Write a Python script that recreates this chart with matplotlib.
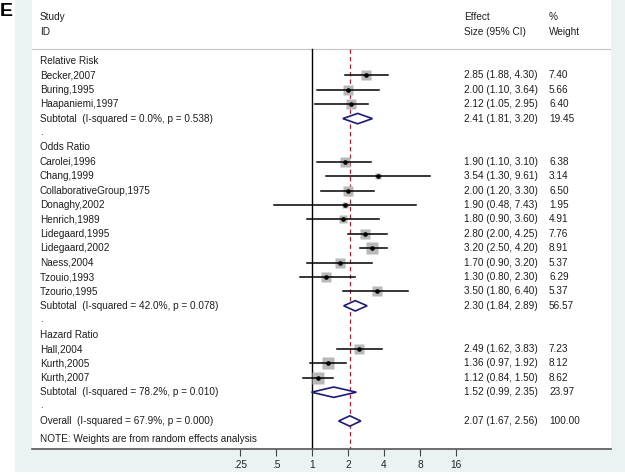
import matplotlib.pyplot as plt
import numpy as np
from matplotlib.patches import Rectangle, Polygon
from matplotlib.transforms import blended_transform_factory

plt.rcParams['font.family'] = ['Liberation Sans', 'DejaVu Sans']

# ---- data ----
group_names = ["Relative Risk", "Odds Ratio", "Hazard Ratio"]

rr_studies = ["Becker,2007", "Buring,1995", "Haapaniemi,1997"]
rr_es = [2.85, 2.00, 2.12]
rr_lo = [1.88, 1.10, 1.05]
rr_hi = [4.30, 3.64, 2.95]
rr_wt = [7.40, 5.66, 6.40]

or_studies = ["Carolei,1996", "Chang,1999", "CollaborativeGroup,1975", "Donaghy,2002",
              "Henrich,1989", "Lidegaard,1995", "Lidegaard,2002", "Naess,2004",
              "Tzouio,1993", "Tzourio,1995"]
or_es = [1.90, 3.54, 2.00, 1.90, 1.80, 2.80, 3.20, 1.70, 1.30, 3.50]
or_lo = [1.10, 1.30, 1.20, 0.48, 0.90, 2.00, 2.50, 0.90, 0.80, 1.80]
or_hi = [3.10, 9.61, 3.30, 7.43, 3.60, 4.25, 4.20, 3.20, 2.30, 6.40]
or_wt = [6.38, 3.14, 6.50, 1.95, 4.91, 7.76, 8.91, 5.37, 6.29, 5.37]

hr_studies = ["Hall,2004", "Kurth,2005", "Kurth,2007"]
hr_es = [2.49, 1.36, 1.12]
hr_lo = [1.62, 0.97, 0.84]
hr_hi = [3.83, 1.92, 1.50]
hr_wt = [7.23, 8.12, 8.62]

sub_labels = ["Subtotal  (I-squared = 0.0%, p = 0.538)",
              "Subtotal  (I-squared = 42.0%, p = 0.078)",
              "Subtotal  (I-squared = 78.2%, p = 0.010)"]
sub_es = [2.41, 2.30, 1.52]
sub_lo = [1.81, 1.84, 0.99]
sub_hi = [3.20, 2.89, 2.35]
sub_wt = [19.45, 56.57, 23.97]

overall_label = "Overall  (I-squared = 67.9%, p = 0.000)"
overall_es, overall_lo, overall_hi, overall_wt = 2.07, 1.67, 2.56, 100.00

xticks = [0.25, 0.5, 1, 2, 4, 8, 16]
xtick_labels = [".25", ".5", "1", "2", "4", "8", "16"]

groups = [
    (rr_studies, rr_es, rr_lo, rr_hi, rr_wt),
    (or_studies, or_es, or_lo, or_hi, or_wt),
    (hr_studies, hr_es, hr_lo, hr_hi, hr_wt),
]

# ---- figure ----
W, H = 625, 475
fig = plt.figure(figsize=(6.25, 4.75), dpi=100, facecolor='white')
bg = '#eaf2f3'
fig.patches.append(Rectangle((15 / W, 1 - 472 / H), 610 / W, 472 / H,
                             transform=fig.transFigure, facecolor=bg,
                             edgecolor='none', zorder=-10))

ax_l, ax_r, ax_t, ax_b = 32, 611, 0, 449
ax = fig.add_axes([ax_l / W, 1 - ax_b / H, (ax_r - ax_l) / W, (ax_b - ax_t) / H])
ax.set_facecolor('white')
ax.set_xscale('log', base=2)
px_dec = 36.0
x0 = 312
ax.set_xlim(2 ** ((ax_l - x0) / px_dec), 2 ** ((ax_r - x0) / px_dec))
row_h = 14.4
y0 = 61
ax.set_ylim((ax_b - y0) / row_h, (ax_t - y0) / row_h)

for s in ['top', 'left', 'right']:
    ax.spines[s].set_visible(False)
ax.spines['bottom'].set_color('#555555')
ax.spines['bottom'].set_linewidth(1.2)
ax.set_yticks([])
ax.set_xticks(xticks)
ax.set_xticklabels(xtick_labels)
ax.minorticks_off()
ax.tick_params(axis='x', length=5, width=0.8, color='#444444', labelsize=7.3,
               labelcolor='#222222', pad=3)

tr = blended_transform_factory(ax.transAxes, ax.transData)
def colx(px):
    return (px - ax_l) / (ax_r - ax_l)

fs = 7.2
tc = '#1e1e1e'
def txt(px, row, s):
    ax.text(colx(px), row, s, transform=tr, fontsize=fs, color=tc, va='center', ha='left')

# header
hdr_line = (49 - y0) / row_h
ax.axhline(hdr_line, color='#c8c8c8', lw=0.9)
r1, r2 = (17 - y0) / row_h, (32 - y0) / row_h
txt(40, r1, "Study"); txt(40, r2, "ID")
txt(464, r1, "Effect"); txt(464, r2, "Size (95% CI)")
txt(549, r1, "%"); txt(549, r2, "Weight")

bottom = ax.get_ylim()[0]
ax.plot([1, 1], [hdr_line, bottom], color='black', lw=1.0, zorder=2)
ax.plot([overall_es, overall_es], [hdr_line, bottom], color='#a0263a', lw=0.9,
        ls=(0, (3.5, 2.5)), zorder=2)

navy = '#1c1c78'
def diamond(row, es, lo, hi):
    h = 0.36
    ax.add_patch(Polygon([(lo, row), (es, row - h), (hi, row), (es, row + h)],
                         closed=True, facecolor='white', edgecolor=navy, lw=1.2, zorder=4))

row = 0
for gi, (names, es, lo, hi, wt) in enumerate(groups):
    txt(40, row, group_names[gi])
    row += 1
    for n, e, l, h, w in zip(names, es, lo, hi, wt):
        txt(40, row, n)
        ax.plot([l, h], [row, row], color='black', lw=1.1, zorder=3)
        ax.plot(e, row, marker='s', ms=2.8 * np.sqrt(w), color='#b8b8b8',
                mec='none', zorder=2.5)
        ax.plot(e, row, marker='o', ms=2.3, color='black', zorder=4)
        txt(464, row, f"{e:.2f} ({l:.2f}, {h:.2f})")
        txt(549, row, f"{w:.2f}")
        row += 1
    txt(40, row, sub_labels[gi])
    diamond(row, sub_es[gi], sub_lo[gi], sub_hi[gi])
    txt(464, row, f"{sub_es[gi]:.2f} ({sub_lo[gi]:.2f}, {sub_hi[gi]:.2f})")
    txt(549, row, f"{sub_wt[gi]:.2f}")
    row += 1
    txt(40, row - 0.1, ".")
    row += 1

txt(40, row, overall_label)
diamond(row, overall_es, overall_lo, overall_hi)
txt(464, row, f"{overall_es:.2f} ({overall_lo:.2f}, {overall_hi:.2f})")
txt(549, row, f"{overall_wt:.2f}")
txt(40, (439 - y0) / row_h, "NOTE: Weights are from random effects analysis")

fig.text(0 / W, 1 - 11 / H, "E", fontsize=14, fontweight='bold', va='center', ha='left')

fig.savefig('out.png', dpi=100, facecolor='white')
